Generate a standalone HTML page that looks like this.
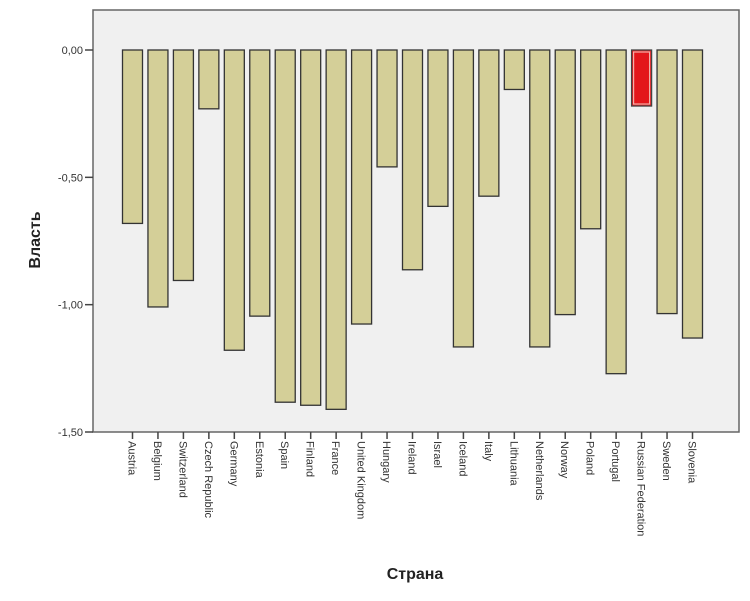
<!DOCTYPE html>
<html><head><meta charset="utf-8"><style>
body{margin:0;background:#fff;width:750px;height:601px;overflow:hidden}
svg{display:block;font-family:"Liberation Sans",Arial,sans-serif}
</style></head><body>
<svg id="chart" width="750" height="601">
<rect x="93" y="10" width="646" height="422" fill="#f0f0f0" stroke="#666" stroke-width="1.5"/>
<text x="0" y="0" transform="translate(40,240) rotate(-90)" text-anchor="middle" font-size="16" font-weight="bold" fill="#222">Власть</text>
<text x="415" y="579" text-anchor="middle" font-size="16" font-weight="bold" fill="#222">Страна</text>
<g id="marks"></g>
</svg>
<script>
const categories=["Austria","Belgium","Switzerland","Czech Republic","Germany","Estonia","Spain","Finland","France","United Kingdom","Hungary","Ireland","Israel","Iceland","Italy","Lithuania","Netherlands","Norway","Poland","Portugal","Russian Federation","Sweden","Slovenia"];
const values=[-0.681,-1.009,-0.905,-0.231,-1.179,-1.045,-1.383,-1.395,-1.411,-1.076,-0.459,-0.863,-0.614,-1.166,-0.574,-0.155,-1.166,-1.039,-0.702,-1.271,-0.220,-1.035,-1.131];
const highlight=["Russian Federation"];
const yTicks=[0,-0.5,-1,-1.5];
const yTickLabels=["0,00","-0,50","-1,00","-1,50"];
const NS="http://www.w3.org/2000/svg";
const g=document.getElementById('marks');
const yScale=v=>50+(0-v)*(432-50)/1.5;
const x0=132.5,step=(692.5-132.5)/(categories.length-1);
const xScale=i=>x0+i*step;
function mk(tag,attrs){const e=document.createElementNS(NS,tag);for(const k in attrs)e.setAttribute(k,attrs[k]);g.appendChild(e);return e;}
yTicks.forEach((t,i)=>{
 const y=yScale(t);
 const l=mk('line',{x1:85,x2:93,y1:y,y2:y,stroke:'#444','stroke-width':1.5});
 
 
 const tx=mk('text',{x:83,y:y+4,'text-anchor':'end','font-size':11,fill:'#333'});
 tx.textContent=yTickLabels[i];
 
 
});
categories.forEach((c,i)=>{
 const cx=xScale(i),y0=yScale(0),y1=yScale(values[i]);
 const red=highlight.includes(c);
 const r=mk('rect',{x:cx-10,y:Math.min(y0,y1),width:20,height:Math.abs(y1-y0),fill:red?'#e3161b':'#d4cf98',stroke:red?'#444':'#333','stroke-width':1.3});
 
 
 if(red){const r2=mk('rect',{x:cx-8,y:Math.min(y0,y1)+2,width:16,height:Math.abs(y1-y0)-4,fill:'none',stroke:'#f3b0a8','stroke-width':1.2});
  
  }
 const t=mk('line',{x1:cx,x2:cx,y1:432,y2:439,stroke:'#444','stroke-width':1.5});
 
 
 const tx=mk('text',{x:0,y:0,transform:`translate(${cx-4},441) rotate(90)`,'font-size':11,fill:'#333'});
 tx.textContent=c;
 
 
});
</script>
</body></html>
